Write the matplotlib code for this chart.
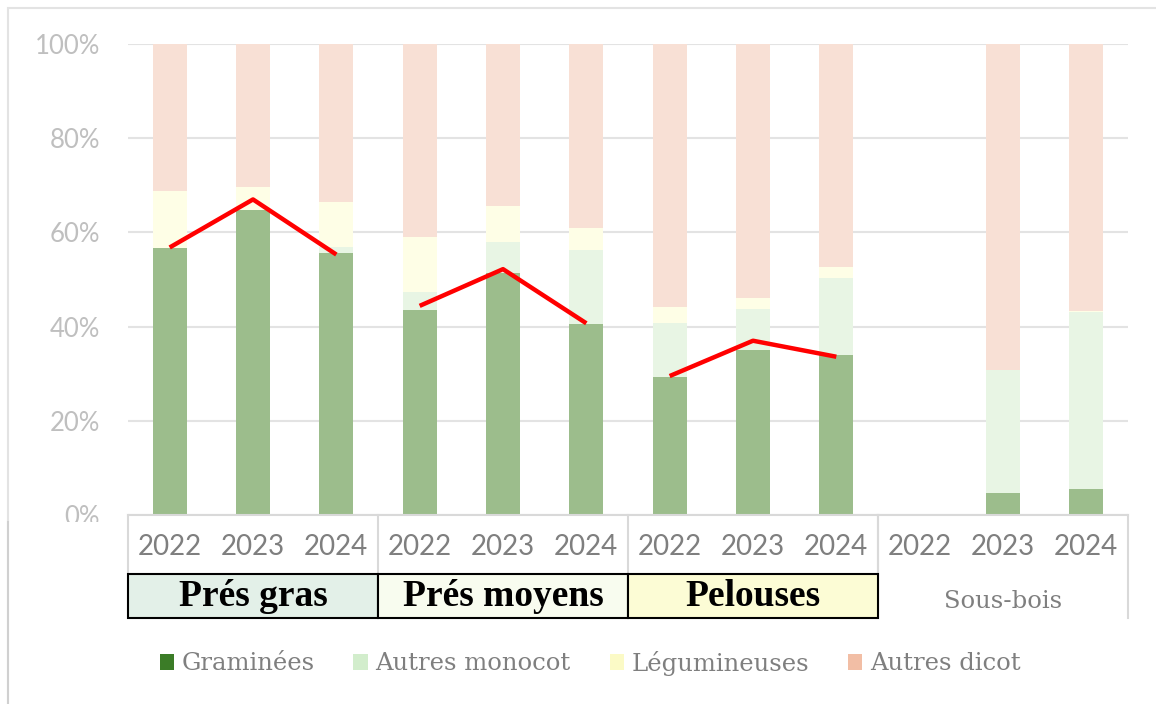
import matplotlib
matplotlib.use("Agg")
import matplotlib.pyplot as plt
from matplotlib.patches import Rectangle, Patch
from matplotlib.lines import Line2D
import numpy as np

# ---- data (percent of cover) ----
years = ['2022', '2023', '2024'] * 4
groups = ['Prés gras', 'Prés moyens', 'Pelouses', 'Sous-bois']
series = ['Graminées', 'Autres monocot', 'Légumineuses', 'Autres dicot']

graminees = [56.6, 64.8, 55.6, 43.5, 51.3, 40.6, 29.4, 35.0, 34.0, 0, 4.6, 5.5]
monocot = [0, 0, 1.2, 3.9, 6.6, 15.7, 11.4, 8.7, 16.3, 0, 26.2, 37.5]
legumineuses = [12.2, 4.9, 9.7, 11.6, 7.6, 4.6, 3.3, 2.4, 2.4, 0, 0, 0.4]
dicot = [31.2, 30.3, 33.5, 41.0, 34.5, 39.1, 55.9, 53.9, 47.3, 0, 69.2, 56.6]

# red trend lines drawn over the bars (one per group)
trend_pres_gras = [56.8, 67.0, 55.3]
trend_pres_moyens = [44.4, 52.2, 40.7]
trend_pelouses = [29.5, 37.0, 33.6]

# bars are pale (50% transparent in the original), legend keeps full colours
bar_cols = ['#9cbd8c', '#e8f5e4', '#fefee6', '#f8e0d5']
leg_cols = ['#3b7c27', '#d2edcc', '#fbfac6', '#f2bea5']

W, H = 1156, 704
fig = plt.figure(figsize=(W / 100, H / 100), dpi=100)
ax = fig.add_axes([128 / W, 1 - 515 / H, 1000 / W, 471 / H])

x = np.arange(len(years))
bottom = np.zeros(len(years))
for vals, c in zip([graminees, monocot, legumineuses, dicot], bar_cols):
    ax.bar(x, vals, width=0.41, bottom=bottom, color=c, zorder=2)
    bottom += np.array(vals)

for i, tr in enumerate([trend_pres_gras, trend_pres_moyens, trend_pelouses]):
    ax.plot(x[3 * i:3 * i + 3], tr, color='#ff0000', lw=3.2, zorder=4,
            solid_capstyle='butt')

ax.set_xlim(-0.5, 11.5)
ax.set_ylim(0, 100)
ax.set_yticks([0, 20, 40, 60, 80, 100])
ax.set_yticklabels(['0%', '20%', '40%', '60%', '80%', '100%'],
                   family='Lato', fontsize=18.5, color='#bfbfbf')
ax.tick_params(axis='y', length=0, pad=20)
ax.set_xticks([])
ax.grid(axis='y', color='#e3e3e3', lw=1.5, zorder=0)
ax.set_axisbelow(True)
for s in ['left', 'right', 'top']:
    ax.spines[s].set_visible(False)
ax.spines['bottom'].set_color('#d9d9d9')
ax.spines['bottom'].set_linewidth(1.5)

# ---- multi-level category axis ----
xt = ax.get_xaxis_transform()


def fy(p):
    # pixel row -> axes fraction
    return (515 - p) / 471


for xi, yr in zip(x, years):
    ax.text(xi, fy(547), yr, transform=xt, ha='center', va='center',
            family='Lato', fontsize=20, color='#7f7f7f', clip_on=False)

for xs in [-0.5, 2.5, 5.5, 8.5]:
    ax.plot([xs, xs], [0, fy(574)], transform=xt, color='#d9d9d9', lw=1.5,
            clip_on=False)
for xs in [8.5, 11.5]:
    ax.plot([xs, xs], [0, fy(618)], transform=xt, color='#d9d9d9', lw=1.5,
            clip_on=False)

box_cols = ['#e3f0e8', '#f8fcef', '#fcfcd5']
for i, (g, c) in enumerate(zip(groups[:3], box_cols)):
    ax.add_patch(Rectangle((3 * i - 0.5, fy(618)), 3, fy(574) - fy(618),
                           transform=xt, facecolor=c, edgecolor='black',
                           lw=1.5, clip_on=False, zorder=3))
    ax.text(3 * i + 1, fy(597), g, transform=xt, ha='center', va='center',
            family='Liberation Serif', fontweight='bold', fontsize=27,
            color='black', clip_on=False, zorder=4)
ax.text(10, fy(601), groups[3], transform=xt, ha='center', va='center',
        family='DejaVu Serif', fontsize=17.5, color='#7f7f7f',
        clip_on=False)

# ---- legend ----
handles = [Patch(facecolor=c, edgecolor='none') for c in leg_cols]
fig.legend(handles, series, loc='center', ncol=4,
           bbox_to_anchor=(590 / W, 1 - 663 / H), frameon=False,
           prop={'family': 'DejaVu Serif', 'size': 17.5},
           labelcolor='#7f7f7f', handlelength=0.6, handleheight=0.6,
           handletextpad=0.3, columnspacing=1.6)

# chart border
fig.add_artist(Rectangle((8 / W, -0.1), 1.2, 1 - 8 / H + 0.1,
                         transform=fig.transFigure, fill=False,
                         edgecolor='#e3e3e3', lw=1.5))
fig.add_artist(Rectangle((9 / W, 0), 113 / W, (H - 522) / H,
                         transform=fig.transFigure, facecolor='white',
                         edgecolor='none', zorder=5))
fig.add_artist(Line2D([8 / W, 8 / W], [0, (H - 522) / H],
                      transform=fig.transFigure, color='#d0d0d0', lw=1.5,
                      zorder=6))

fig.savefig('out.png', dpi=100)
